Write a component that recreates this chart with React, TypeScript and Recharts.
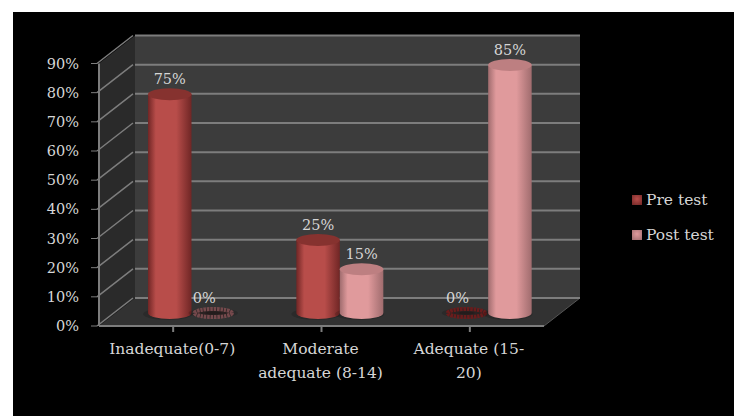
import { useId } from "react";
import {
  Bar,
  CartesianGrid,
  ComposedChart,
  LabelList,
  Legend,
  XAxis,
  YAxis,
  usePlotArea,
} from "recharts";

const categories = ["Inadequate(0-7)", "Moderate adequate (8-14)", "Adequate (15-20)"];
const categoryLines = [["Inadequate(0-7)"], ["Moderate", "adequate (8-14)"], ["Adequate (15-", "20)"]];
const preTest = [75, 25, 0];
const postTest = [0, 15, 85];
const yTicks = [0, 10, 20, 30, 40, 50, 60, 70, 80, 90];

const rows = categories.map((name, i) => ({ name, pre: preTest[i], post: postTest[i] }));

const WIDTH = 738;
const HEIGHT = 416;
const DEPTH_X = 36;
const DEPTH_Y = 28;
const Y_MAX = yTicks[yTicks.length - 1];
const FONT = '"DejaVu Serif", serif';
const TEXT = "#d6d6d6";
const GRID = "#7d7d7d";

const palette = {
  pre: { edge: "#702625", mid: "#b84d4a", top: "#86322f", ring: "#6a1c1c" },
  post: { edge: "#a06c6e", mid: "#e09a9c", top: "#bd7f81", ring: "#75494c" },
};

// Walls and floor of the 3D box, sitting behind the grid and the bars
function Box() {
  const plot = usePlotArea();
  if (!plot) return null;
  const l = plot.x;
  const r = plot.x + plot.width;
  const t = plot.y;
  const b = plot.y + plot.height;
  return (
    <g>
      <polygon
        points={`${l + DEPTH_X},${t - DEPTH_Y} ${r + DEPTH_X},${t - DEPTH_Y} ${r + DEPTH_X},${b - DEPTH_Y} ${l + DEPTH_X},${b - DEPTH_Y}`}
        fill="#3c3c3c"
      />
      <polygon
        points={`${l},${t} ${l + DEPTH_X},${t - DEPTH_Y} ${l + DEPTH_X},${b - DEPTH_Y} ${l},${b}`}
        fill="#2a2a2a"
      />
      <polygon
        points={`${l},${b} ${r},${b} ${r + DEPTH_X},${b - DEPTH_Y} ${l + DEPTH_X},${b - DEPTH_Y}`}
        fill="#323232"
      />
      <line x1={r} y1={b} x2={r + DEPTH_X} y2={b - DEPTH_Y} stroke="#555" />
    </g>
  );
}

// Horizontal grid pushed back onto the rear wall
function BackGrid() {
  const plot = usePlotArea();
  if (!plot) return null;
  return (
    <CartesianGrid
      vertical={false}
      stroke={GRID}
      strokeWidth={2}
      zIndex={100}
      x={plot.x + DEPTH_X}
      y={plot.y - DEPTH_Y}
      width={plot.width}
      height={plot.height}
      horizontalCoordinatesGenerator={() =>
        yTicks.map((t) => plot.y + plot.height * (1 - t / Y_MAX) - DEPTH_Y)
      }
    />
  );
}

function Cylinder(props: any) {
  const { x, y, width, height, series } = props;
  const id = useId();
  const colors = palette[series as "pre" | "post"];
  const rx = width / 2;
  const ry = 6;
  const cx = x + rx + DEPTH_X / 2;
  const base = y + height - DEPTH_Y / 2 + 1;
  const top = y - DEPTH_Y / 2 + 1;

  if (height < 1) {
    // a zero value leaves only a flat ring on the floor
    return (
      <g>
        <ellipse cx={cx} cy={base} rx={rx + 3} ry={ry - 1} fill="#000" opacity={0.15} />
        <ellipse cx={cx} cy={base} rx={rx - 3} ry={ry - 2} fill="#2b2222" stroke={colors.ring} strokeWidth={4} strokeDasharray="2.5 0.8" />
        <ellipse cx={cx} cy={base} rx={8} ry={1.5} fill="#241c1c" />
      </g>
    );
  }
  return (
    <g>
      <defs>
        <linearGradient id={id}>
          <stop offset="0" stopColor={colors.edge} />
          <stop offset="0.18" stopColor={colors.mid} />
          <stop offset="0.65" stopColor={colors.mid} />
          <stop offset="1" stopColor={colors.edge} />
        </linearGradient>
      </defs>
      <ellipse cx={cx - 2} cy={base + 1} rx={rx + 3} ry={ry} fill="#000" opacity={0.15} />
      <path
        d={`M${cx - rx},${top} L${cx - rx},${base} A${rx},${ry} 0 0 0 ${cx + rx},${base} L${cx + rx},${top} Z`}
        fill={`url(#${id})`}
      />
      <ellipse cx={cx} cy={top} rx={rx} ry={ry} fill={colors.top} />
    </g>
  );
}

function ValueLabel(props: any) {
  const { x, y, width, value } = props;
  // the zero labels sit left of their ring
  const shift = value === 0 ? -9 : 0;
  return (
    <text
      x={x + width / 2 + DEPTH_X / 2 + shift}
      y={y - DEPTH_Y / 2 - 9}
      textAnchor="middle"
      fontFamily={FONT}
      fontSize={14.5}
      fill={TEXT}
    >
      {value}%
    </text>
  );
}

// Y tick: label, small outer tick and the diagonal running back along the side wall
function YTick(props: any) {
  const { x, y, payload } = props;
  const axisX = x + 6;
  return (
    <g>
      <line x1={x} y1={y} x2={axisX} y2={y} stroke={GRID} />
      <line x1={axisX} y1={y} x2={axisX + DEPTH_X} y2={y - DEPTH_Y} stroke={GRID} strokeWidth={1.5} />
      <text x={x - 12} y={y + 5} textAnchor="end" fontFamily={FONT} fontSize={14.5} fill={TEXT}>
        {payload.value}%
      </text>
    </g>
  );
}

function XTick(props: any) {
  const { x, y, index } = props;
  return (
    <text textAnchor="middle" fontFamily={FONT} fontSize={15.5} fill={TEXT}>
      {categoryLines[index].map((line, i) => (
        <tspan key={line} x={x - 1} y={y + 20 + i * 24}>
          {line}
        </tspan>
      ))}
    </text>
  );
}

function LegendList(props: any) {
  const keys = ["pre", "post"] as const;
  return (
    <div style={{ fontFamily: FONT, fontSize: 15.5, color: TEXT }}>
      {(props.payload ?? []).map((entry: any, i: number) => (
        <div key={entry.value} style={{ display: "flex", alignItems: "center", height: 35 }}>
          <span
            style={{
              width: 10,
              height: 10,
              marginRight: 4,
              background: `radial-gradient(circle at 50% 40%, ${palette[keys[i]].mid}, ${palette[keys[i]].edge})`,
            }}
          />
          {entry.value}
        </div>
      ))}
    </div>
  );
}

export default function App() {
  return (
    <div style={{ position: "absolute", left: 0, top: 0, width: WIDTH, height: HEIGHT, background: "#fff" }}>
      <div style={{ position: "absolute", left: 13, top: 12, width: 721, height: 404, background: "#000" }} />
      <ComposedChart
        width={734}
        height={404}
        data={rows}
        barSize={43.5}
        barGap={0}
        margin={{ top: 51.5, right: 90, bottom: 60, left: 0 }}
        style={{ position: "absolute", left: 0, top: 12 }}
      >
        <Box />
        <BackGrid />
        <XAxis
          dataKey="name"
          stroke={GRID}
          strokeWidth={2}
          tickLine={{ stroke: GRID }}
          tickSize={6}
          interval={0}
          tick={<XTick />}
        />
        <YAxis
          width={99}
          domain={[0, 90]}
          ticks={yTicks}
          stroke={GRID}
          strokeWidth={2}
          tickLine={false}
          interval={0}
          tick={<YTick />}
        />
        <Bar dataKey="pre" name="Pre test" fill={palette.pre.mid} isAnimationActive={false} shape={<Cylinder series="pre" />}>
          <LabelList dataKey="pre" content={<ValueLabel />} />
        </Bar>
        <Bar dataKey="post" name="Post test" fill={palette.post.mid} isAnimationActive={false} shape={<Cylinder series="post" />}>
          <LabelList dataKey="post" content={<ValueLabel />} />
        </Bar>
        <Legend
          layout="vertical"
          align="right"
          verticalAlign="middle"
          itemSorter={null}
          content={<LegendList />}
          wrapperStyle={{ left: 632, top: 170, width: 100, right: "auto", bottom: "auto" }}
        />
      </ComposedChart>
    </div>
  );
}
